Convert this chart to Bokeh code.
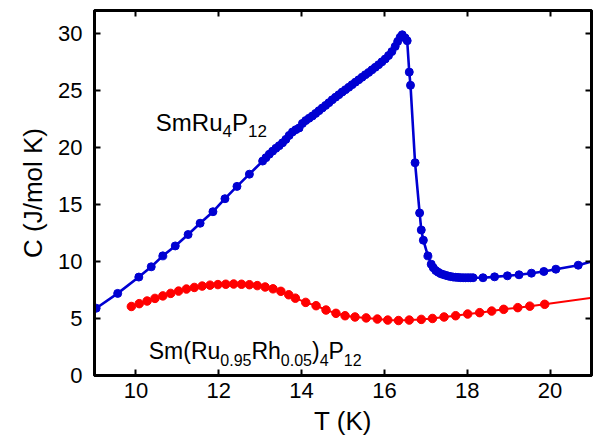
from bokeh.plotting import figure
from bokeh.models import LinearAxis, FixedTicker, Label, Range1d
from bokeh.embed import file_html
from bokeh.resources import INLINE

# ---------------- data ----------------
blue_T = [9.04, 9.56, 10.07, 10.37, 10.65, 10.95, 11.26, 11.55, 11.86, 12.15, 12.44, 12.74, 13.06,
          13.14, 13.22, 13.30, 13.38, 13.46, 13.54, 13.62, 13.70, 13.78, 13.86, 13.94, 14.02,
          14.10, 14.18, 14.26, 14.34, 14.42, 14.50, 14.58, 14.66, 14.74, 14.82, 14.90, 14.98,
          15.06, 15.14, 15.22, 15.30, 15.38, 15.46, 15.54, 15.62, 15.70, 15.78, 15.86, 15.94,
          16.02, 16.10, 16.18, 16.26, 16.32, 16.38, 16.43, 16.50, 16.55,
          16.60, 16.63, 16.74, 16.85, 16.89, 16.94, 17.05, 17.13, 17.18, 17.24, 17.30, 17.36,
          17.42, 17.48, 17.54, 17.60, 17.66, 17.72, 17.78, 17.84, 17.90, 17.96, 18.02, 18.08,
          18.14, 18.38, 18.66, 18.97, 19.25, 19.55, 19.85, 20.14, 20.68]
blue_C = [5.90, 7.20, 8.63, 9.53, 10.49, 11.36, 12.36, 13.35, 14.36, 15.50, 16.58, 17.65, 18.80,
          19.10, 19.40, 19.67, 19.92, 20.15, 20.40, 20.70, 21.05, 21.35, 21.55, 21.70, 22.10,
          22.35, 22.55, 22.75, 22.98, 23.22, 23.45, 23.68, 23.92, 24.17, 24.40, 24.62, 24.85,
          25.06, 25.27, 25.50, 25.72, 25.93, 26.15, 26.37, 26.57, 26.80, 27.02, 27.25, 27.50,
          27.75, 28.05, 28.40, 28.85, 29.28, 29.65, 29.87, 29.60, 29.35,
          26.60, 25.44, 18.65, 14.25, 12.76, 11.86, 10.49, 9.76, 9.45, 9.20, 9.05, 8.93,
          8.85, 8.78, 8.72, 8.67, 8.63, 8.61, 8.60, 8.58, 8.57, 8.57, 8.57, 8.57,
          8.57, 8.57, 8.65, 8.74, 8.83, 8.97, 9.12, 9.32, 9.67]
blue_line_end_T = [21.2]
blue_line_end_C = [10.2]

red_T = [9.89, 10.08, 10.27, 10.46, 10.65, 10.84, 11.03, 11.22, 11.41, 11.60, 11.79, 11.98,
         12.17, 12.36, 12.55, 12.74, 12.93, 13.12, 13.31, 13.50, 13.69, 13.85, 14.10, 14.35,
         14.59, 14.83, 15.05, 15.29, 15.56, 15.83, 16.08, 16.34, 16.60, 16.89, 17.16, 17.44,
         17.72, 18.01, 18.30, 18.59, 18.88, 19.22, 19.51, 19.87]
red_C = [6.05, 6.30, 6.53, 6.76, 6.98, 7.20, 7.40, 7.58, 7.72, 7.84, 7.92, 7.97,
         8.00, 8.02, 8.00, 7.96, 7.88, 7.76, 7.60, 7.38, 7.08, 6.78, 6.41, 6.12,
         5.74, 5.45, 5.24, 5.13, 5.05, 4.95, 4.86, 4.82, 4.86, 4.92, 5.00, 5.13,
         5.24, 5.39, 5.51, 5.65, 5.80, 5.95, 6.08, 6.24]
red_line_end_T = [21.2]
red_line_end_C = [6.9]

x_ticks = [10, 12, 14, 16, 18, 20]
y_ticks = [0, 5, 10, 15, 20, 25, 30]

x_label = "T (K)"
y_label = "C (J/mol K)"

# ---------------- figure ----------------
FONT = "Liberation Sans"
BLUE = "#0000d2"
RED = "#ff0000"

p = figure(width=593, height=438, x_range=Range1d(9, 21), y_range=Range1d(0, 32),
           output_backend="svg", toolbar_location=None,
           min_border_left=94, min_border_right=2, min_border_top=10, min_border_bottom=63)
p.background_fill_color = "white"
p.border_fill_color = "white"
p.grid.visible = False
p.outline_line_color = "black"
p.outline_line_width = 3

# extra axes (ticks only) on top and right
p.add_layout(LinearAxis(), "above")
p.add_layout(LinearAxis(), "right")

for ax in p.axis:
    ax.axis_line_color = "black"
    ax.axis_line_width = 3
    ax.major_tick_in = 6
    ax.major_tick_out = 0
    ax.major_tick_line_width = 2
    ax.major_tick_line_color = "black"
    ax.minor_tick_line_color = None
    ax.major_label_text_font = FONT
    ax.major_label_text_font_size = "22px"
    ax.major_label_text_color = "black"
    ax.axis_label_text_font = FONT
    ax.axis_label_text_font_style = "normal"
    ax.axis_label_text_font_size = "26px"
    ax.axis_label_text_color = "black"

p.xaxis.ticker = FixedTicker(ticks=x_ticks)
p.yaxis.ticker = FixedTicker(ticks=y_ticks)

# no labels on top/right axes (ticks only)
for ax in (p.above[0], p.right[0]):
    ax.major_label_text_font_size = "1px"
    ax.major_label_text_color = None
    ax.major_label_standoff = 0

bx = p.below[0]
bx.axis_label = x_label
bx.major_label_standoff = 7
bx.axis_label_standoff = 5

ly = p.left[0]
ly.axis_label = y_label
ly.major_label_standoff = 12
ly.axis_label_standoff = 7

# ---------------- data glyphs ----------------
p.line(blue_T + blue_line_end_T, blue_C + blue_line_end_C, line_color=BLUE, line_width=2.6)
p.scatter(blue_T, blue_C, marker="circle", size=8, fill_color=BLUE, line_color=BLUE)

p.line(red_T + red_line_end_T, red_C + red_line_end_C, line_color=RED, line_width=2)
p.scatter(red_T, red_C, marker="circle", size=8.5, fill_color=RED, line_color=RED)

# ---------------- annotations with subscripts ----------------
W = {"S": 667, "m": 833, "R": 722, "u": 556, "P": 667, "h": 556, "(": 333, ")": 333,
     ".": 278}
for d in "0123456789":
    W[d] = 556


def text_width(s, size):
    return sum(W.get(c, 556) for c in s) / 1000.0 * size


def rich_label(x, y, pieces, main=24, sub=17, drop=9):
    off = 0.0
    for txt, is_sub in pieces:
        size = sub if is_sub else main
        p.add_layout(Label(x=x, y=y, x_offset=off, y_offset=(-drop if is_sub else 0),
                           text=txt, text_font=FONT, text_font_size=f"{size}px",
                           text_color="black", text_baseline="alphabetic",
                           text_align="left"))
        off += text_width(txt, size)


rich_label(10.48, 22.2, [("SmRu", False), ("4", True), ("P", False), ("12", True)])
rich_label(10.31, 2.19, [("Sm(Ru", False), ("0.95", True), ("Rh", False), ("0.05", True),
                         (")", False), ("4", True), ("P", False), ("12", True)], main=23, sub=16)

open("out.html", "w").write(file_html(p, INLINE))
